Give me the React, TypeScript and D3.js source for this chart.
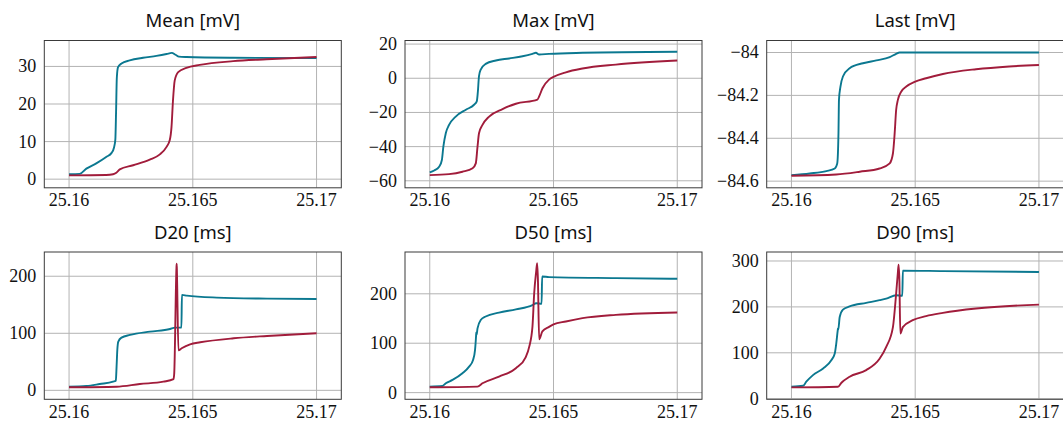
import React from "react";
import * as d3 from "d3";

type P = [number, number];

const xTicks = [25.16, 25.165, 25.17];
const xTickLabels = ["25.16", "25.165", "25.17"];

const titles = ["Mean [mV]", "Max [mV]", "Last [mV]", "D20 [ms]", "D50 [ms]", "D90 [ms]"];

const yDomains: P[] = [
  [-2.3, 36.9],
  [-64.1, 22.1],
  [-84.631, -83.944],
  [-15.7, 242.5],
  [-13.5, 284.6],
  [-1.3, 319.6],
];

const yTicks: number[][] = [
  [0, 10, 20, 30],
  [-60, -40, -20, 0, 20],
  [-84.6, -84.4, -84.2, -84],
  [0, 100, 200],
  [0, 100, 200],
  [0, 100, 200, 300],
];

const meanBlue: P[] = [
  [25.16, 1.3], [25.16043, 1.4], [25.1607, 2.8], [25.1611, 4.2], [25.1615, 5.9], [25.16172, 7.0],
  [25.16182, 8.5], [25.16187, 10.5], [25.1619, 18], [25.16193, 27], [25.16198, 29.8], [25.16212, 30.8],
  [25.16245, 31.6], [25.16299, 32.3], [25.16353, 32.8], [25.16394, 33.3], [25.16415, 33.6],
  [25.1643, 33.1], [25.16444, 32.6], [25.16474, 32.5], [25.16663, 32.3], [25.17, 32.2],
];
const meanRed: P[] = [
  [25.16, 1.0], [25.1615, 1.1], [25.16178, 1.3], [25.16191, 1.7], [25.16205, 2.6], [25.16259, 3.7],
  [25.16326, 5.2], [25.16367, 6.6], [25.16394, 8.6], [25.16407, 10.4], [25.16414, 13.9], [25.1642, 21],
  [25.16427, 26.3], [25.16441, 28.5], [25.16474, 29.6], [25.16528, 30.4], [25.16663, 31.4],
  [25.16798, 31.9], [25.17, 32.5],
];
const maxBlue: P[] = [
  [25.16, -55.1], [25.16018, -54], [25.16038, -51.8], [25.16049, -47.8], [25.16055, -40], [25.16065, -32],
  [25.16078, -27.3], [25.16105, -22.4], [25.16146, -18.4], [25.16179, -15.5], [25.1619, -13.5],
  [25.16194, -8.6], [25.16199, 1.2], [25.16206, 5.1], [25.16226, 8.4], [25.16267, 10.4], [25.16321, 11.6],
  [25.16375, 12.9], [25.16415, 14.3], [25.16429, 14.9], [25.16442, 13.9], [25.16482, 14.3],
  [25.16617, 14.9], [25.17, 15.5],
];
const maxRed: P[] = [
  [25.16, -56.7], [25.16078, -56.1], [25.16132, -54.7], [25.16173, -52.7], [25.16186, -49.8],
  [25.16193, -40], [25.16199, -32.2], [25.16213, -27.3], [25.1624, -22.4], [25.16294, -18],
  [25.16348, -14.9], [25.16435, -12.5], [25.16442, -10.6], [25.16456, -5.7], [25.16482, -0.8],
  [25.165, 0.8], [25.1655, 3.5], [25.16617, 5.7], [25.16752, 8], [25.17, 10.4],
];
const lastBlue: P[] = [
  [25.16, -84.572], [25.16074, -84.564], [25.16141, -84.553], [25.16175, -84.541], [25.16185, -84.517],
  [25.1619, -84.377], [25.16192, -84.221], [25.16198, -84.159], [25.16208, -84.112], [25.16235, -84.073],
  [25.16289, -84.05], [25.16343, -84.037], [25.16397, -84.022], [25.16423, -84.006], [25.16437, -84.0],
  [25.17, -84.0],
];
const lastRed: P[] = [
  [25.16, -84.575], [25.16181, -84.569], [25.16276, -84.556], [25.16356, -84.541], [25.16397, -84.517],
  [25.1641, -84.471], [25.16417, -84.377], [25.16423, -84.268], [25.1643, -84.221], [25.16444, -84.182],
  [25.16464, -84.159], [25.165, -84.136], [25.16544, -84.12], [25.16612, -84.1], [25.16746, -84.078],
  [25.1688, -84.065], [25.17, -84.058],
];
const d20Blue: P[] = [
  [25.16, 6.4], [25.1607, 7.6], [25.16124, 11.1], [25.16178, 15.2], [25.16189, 17], [25.16192, 41.5],
  [25.16195, 70.8], [25.16199, 85.4], [25.16212, 92.4], [25.16246, 97.1], [25.16327, 102.9],
  [25.16408, 107.5], [25.16428, 110], [25.16454, 110], [25.16456, 167.3], [25.16476, 166],
  [25.16597, 162.6], [25.168, 160.8], [25.17, 160.2],
];
const d20Red: P[] = [
  [25.16, 5.3], [25.16192, 6.4], [25.16286, 11.1], [25.16381, 15.2], [25.16422, 19.5], [25.16425, 30],
  [25.16434, 215], [25.16435, 222], [25.16436, 205], [25.16442, 70], [25.16455, 73.7], [25.16489, 80.7],
  [25.1653, 84.2], [25.16665, 91.2], [25.168, 95.3], [25.17, 100],
];
const d50Blue: P[] = [
  [25.16, 12.2], [25.16051, 13.5], [25.16065, 18.9], [25.16092, 25.7], [25.16132, 39.2], [25.16159, 52.7],
  [25.16175, 66.2], [25.16183, 86.5], [25.16187, 113.5], [25.16188, 122], [25.16189, 117], [25.16193, 130],
  [25.16206, 147], [25.16226, 154], [25.1628, 162], [25.16348, 168.5], [25.16415, 177], [25.1643, 181],
  [25.16452, 180], [25.16454, 235], [25.16482, 233.8], [25.16752, 231.8], [25.17, 230.4],
];
const d50Red: P[] = [
  [25.16, 10.8], [25.16193, 12.2], [25.16213, 18.9], [25.1628, 32.4], [25.16348, 49.3], [25.16388, 72],
  [25.16402, 93], [25.16415, 133.6], [25.16422, 201], [25.1643, 245], [25.16434, 262], [25.16437, 230],
  [25.16442, 108], [25.16455, 124], [25.16482, 133], [25.165, 138], [25.1655, 144], [25.16617, 150.7],
  [25.16752, 157.4], [25.17, 162.2],
];
const d90Blue: P[] = [
  [25.16, 26], [25.16047, 28.3], [25.1606, 37], [25.16087, 51.4], [25.16128, 66], [25.16161, 84],
  [25.16175, 98.6], [25.16181, 120], [25.16187, 149], [25.16188, 153], [25.16189, 150], [25.16195, 178],
  [25.16208, 194], [25.16235, 201], [25.16302, 208.7], [25.16356, 214.6], [25.16383, 218],
  [25.16423, 225.5], [25.16448, 224], [25.1645, 279], [25.16612, 278], [25.17, 276],
];
const d90Red: P[] = [
  [25.16, 24.6], [25.16188, 26], [25.16202, 34.8], [25.16235, 47.8], [25.16302, 62.3], [25.16356, 87],
  [25.16383, 113], [25.1641, 156], [25.16423, 229], [25.1643, 275], [25.16433, 292], [25.16436, 260],
  [25.1644, 142], [25.1645, 156], [25.1649, 171], [25.16544, 180], [25.16612, 187], [25.16746, 196.4],
  [25.17, 205],
];

const blueSeries = [meanBlue, maxBlue, lastBlue, d20Blue, d50Blue, d90Blue];
const redSeries = [meanRed, maxRed, lastRed, d20Red, d50Red, d90Red];

const BLUE = "#0b7890";
const RED = "#a11c3b";
const colLeft = [44.3, 405, 766.7];
const rowTop = [40.5, 252];
const PW = 297;
const PH = 147.3;
const X_DOMAIN: P = [25.159, 25.171];

function fmt(v: number): string {
  const s = String(v);
  return v < 0 ? "\u2212" + s.slice(1) : s;
}

function Panel({ i }: { i: number }) {
  const left = colLeft[i % 3];
  const top = rowTop[Math.floor(i / 3)];
  const x = d3.scaleLinear().domain(X_DOMAIN).range([left, left + PW]);
  const y = d3.scaleLinear().domain(yDomains[i]).range([top + PH, top]);
  const line = d3
    .line<P>()
    .x((d) => x(d[0]))
    .y((d) => y(d[1]))
    .curve(d3.curveMonotoneX);
  const clipId = `clip${i}`;
  return (
    <g>
      <defs>
        <clipPath id={clipId}>
          <rect x={left} y={top} width={PW} height={PH} />
        </clipPath>
      </defs>
      <text
        x={left + PW / 2}
        y={top - 13.5}
        textAnchor="middle"
        fontFamily="'Noto Sans', sans-serif"
        fontSize={18.5}
        fill="#111"
      >
        {titles[i]}
      </text>
      <g clipPath={`url(#${clipId})`}>
        {xTicks.map((t) => (
          <line key={"gx" + t} x1={x(t)} x2={x(t)} y1={top} y2={top + PH} stroke="#b3b3b3" strokeWidth={1} />
        ))}
        {yTicks[i].map((t) => (
          <line key={"gy" + t} x1={left} x2={left + PW} y1={y(t)} y2={y(t)} stroke="#b3b3b3" strokeWidth={1} />
        ))}
        <path d={line(blueSeries[i]) || ""} fill="none" stroke={BLUE} strokeWidth={1.9} strokeLinejoin="round" />
        <path d={line(redSeries[i]) || ""} fill="none" stroke={RED} strokeWidth={1.9} strokeLinejoin="round" />
      </g>
      <rect x={left} y={top} width={PW} height={PH} fill="none" stroke="#3a3a3a" strokeWidth={1} />
      {xTicks.map((t, k) => (
        <text
          key={"tx" + t}
          x={x(t)}
          y={top + PH + 18.5}
          textAnchor="middle"
          fontFamily="'Liberation Serif', serif"
          fontSize={18}
          fill="#111"
        >
          {xTickLabels[k]}
        </text>
      ))}
      {yTicks[i].map((t) => (
        <text
          key={"ty" + t}
          x={left - 8}
          y={y(t)}
          dy="0.33em"
          textAnchor="end"
          fontFamily="'Liberation Serif', serif"
          fontSize={18}
          fill="#111"
        >
          {fmt(t)}
        </text>
      ))}
    </g>
  );
}

export default function App() {
  return (
    <svg
      width={1063}
      height={423}
      style={{ position: "absolute", left: 0, top: 0, background: "#fff" }}
    >
      {[0, 1, 2, 3, 4, 5].map((i) => (
        <Panel key={i} i={i} />
      ))}
    </svg>
  );
}
